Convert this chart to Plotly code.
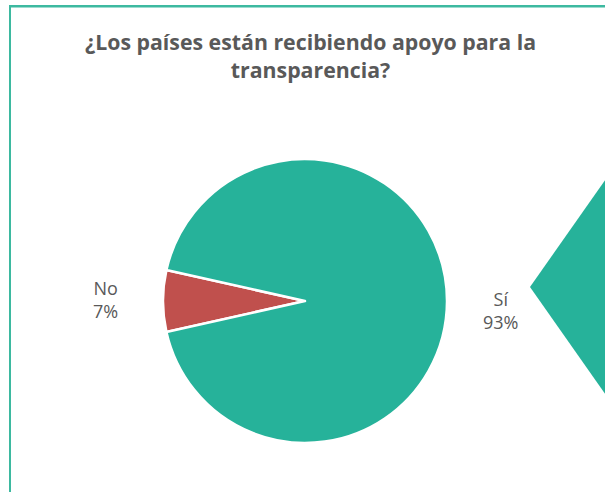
import plotly.graph_objects as go

W, H = 605, 492

labels = ["No", "Sí"]
values = [7, 93]
colors = ["#C0504D", "#26B29A"]
title_text = "¿Los países están recibiendo apoyo para la<br>transparencia?"

total = sum(values)
pcts = [round(v / total * 100) for v in values]

def px(x):
    return x / W

def py(y):
    return 1 - y / H

cx, cy, r = 305, 301, 142

fig = go.Figure()
fig.add_trace(go.Pie(
    labels=labels,
    values=values,
    sort=False,
    direction="clockwise",
    rotation=257.4,
    marker=dict(colors=colors, line=dict(color="white", width=2.5)),
    textinfo="none",
    hoverinfo="label+percent",
    showlegend=False,
    domain=dict(x=[px(cx - r), px(cx + r)], y=[py(cy + r), py(cy - r)]),
))

label_pos = [(105, 299), (500, 310)]
for (lx, ly), lab, p in zip(label_pos, labels, pcts):
    fig.add_annotation(
        x=px(lx), y=py(ly), xref="paper", yref="paper",
        text=f"{lab}<br>{p}%", showarrow=False,
        font=dict(family="Open Sans", size=18, color="#595959"),
        xanchor="center", yanchor="middle",
    )

fig.add_annotation(
    x=px(310), y=py(55), xref="paper", yref="paper",
    text=title_text, showarrow=False,
    font=dict(family="Open Sans", size=21.3, color="#595959", weight="bold"),
    xanchor="center", yanchor="middle",
)

border = "#3DB9A0"
shapes = []
# top border drawn in segments
seg = 100
x = 9
while x < W:
    shapes.append(dict(type="rect", xref="paper", yref="paper", layer="above",
                       x0=px(x), y0=py(7.5), x1=px(min(x + seg, W)), y1=py(5),
                       fillcolor=border, line=dict(width=0)))
    x += seg
shapes += [
    dict(type="rect", xref="paper", yref="paper", layer="above",
         x0=px(9), y0=0, x1=px(11), y1=py(5),
         fillcolor=border, line=dict(width=0)),
    dict(type="path", xref="paper", yref="paper",
         path=f"M {px(530)},{py(287)} L {px(700)},{py(287-242)} L {px(870)},{py(287)} L {px(700)},{py(287+242)} Z",
         fillcolor="#26B29A", line=dict(width=0)),
]
fig.update_layout(
    width=W, height=H,
    margin=dict(l=0, r=0, t=0, b=0),
    paper_bgcolor="white",
    plot_bgcolor="white",
    shapes=shapes,
)

fig.write_html("out.html", config={"displayModeBar": False},
               post_script="document.body.style.margin='0px';document.body.style.overflow='hidden';")
